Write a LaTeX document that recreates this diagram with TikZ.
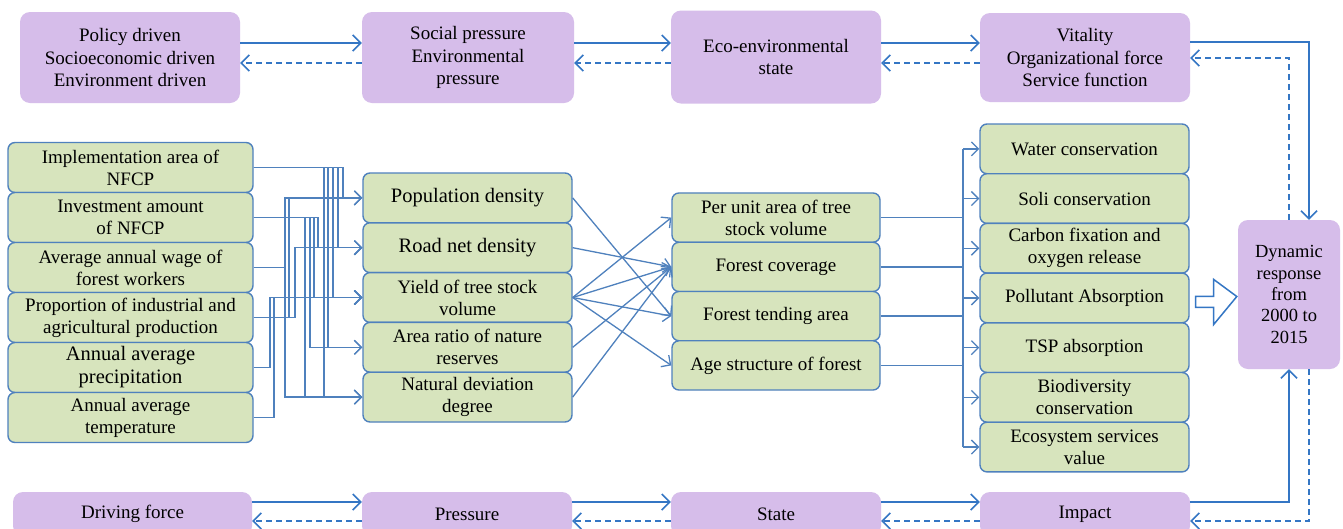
\documentclass[tikz,border=0pt]{standalone}
\usepackage{fontspec}
\setmainfont{Liberation Serif}
\usetikzlibrary{arrows.meta,calc}
\definecolor{purp}{RGB}{214,189,234}
\definecolor{grn}{RGB}{215,228,189}
\definecolor{edge}{RGB}{79,129,189}
\definecolor{lnk}{RGB}{52,118,196}
\tikzset{
 pbox/.style={fill=purp, rounded corners=10pt, inner sep=0pt, align=center, font=\fontsize{19}{22.5}\selectfont},
 gbox/.style={fill=grn, draw=edge, line width=1.4pt, rounded corners=7pt, inner sep=0pt, align=center, font=\fontsize{19}{22}\selectfont},
 bigtxt/.style={font=\fontsize{20.5}{23}\selectfont},
 conn/.style={draw=edge, line width=1.3pt, -{Straight Barb[length=7pt,width=14pt,line width=1.3pt]}},
 link/.style={draw=lnk, line width=1.5pt, -{Straight Barb[length=8pt,width=16pt,line width=1.5pt]}},
 dlink/.style={link, dash pattern=on 6pt off 4pt},
 plain/.style={draw=edge, line width=1.4pt},
}
\begin{document}
\begin{tikzpicture}[x=1pt,y=-1pt]
\useasboundingbox (0,0) rectangle (1343,528);
\fill[white] (0,0) rectangle (1343,528);
\clip (0,0) rectangle (1343,528);
% y levels
\coordinate (ya) at (0,43);
\coordinate (yb) at (0,63);
\coordinate (yc) at (0,42);
\coordinate (yd) at (0,58);
\coordinate (ye) at (0,502);
\coordinate (yf) at (0,521);
\coordinate (bus) at (963,0);
% top row
\node[pbox, minimum width=220pt, minimum height=91pt] (T1) at (130,57.5) {Policy driven\\Socioeconomic driven\\Environment driven};
\node[pbox, minimum width=212pt, minimum height=91pt] (T2) at (468,57.5) {Social pressure\\Environmental\\pressure};
\node[pbox, minimum width=210pt, minimum height=93pt] (T3) at (776,57) {Eco-environmental\\state};
\node[pbox, minimum width=210pt, minimum height=89pt] (T4) at (1085,57.5) {Vitality\\Organizational force\\Service function};
% bottom row
\node[pbox, minimum width=239pt, minimum height=44pt] (B1) at (132.5,514) {Driving force};
\node[pbox, minimum width=210pt, minimum height=44pt] (B2) at (467,514) {Pressure};
\node[pbox, minimum width=210pt, minimum height=44pt] (B3) at (776,514) {State};
\node[pbox, minimum width=210pt, minimum height=44pt] (B4) at (1085,514) {Impact};
% dynamic
\node[pbox, minimum width=102pt, minimum height=149pt, font=\fontsize{18.5}{21.3}\selectfont] (Dyn) at (1289,294.5) {Dynamic\\response\\from\\2000 to\\2015};
% left column
\node[gbox, minimum width=245pt, minimum height=50pt] (L1) at (130.5,167.5) {Implementation area of\\NFCP};
\node[gbox, minimum width=245pt, minimum height=50pt] (L2) at (130.5,217.5) {Investment amount\\of NFCP};
\node[gbox, minimum width=245pt, minimum height=50pt] (L3) at (130.5,267.5) {Average annual wage of\\forest workers};
\node[gbox, minimum width=245pt, minimum height=50pt] (L4) at (130.5,317.5) {Proportion of industrial and\\agricultural production};
\node[gbox, bigtxt, minimum width=245pt, minimum height=50pt] (L5) at (130.5,367.5) {Annual average\\precipitation};
\node[gbox, minimum width=245pt, minimum height=50pt] (L6) at (130.5,417.5) {Annual average\\temperature};
% middle column
\node[gbox, bigtxt, minimum width=209pt, minimum height=49.8pt] (M1) at (467.5,197.9) {Population density};
\node[gbox, bigtxt, minimum width=209pt, minimum height=49.8pt] (M2) at (467.5,247.7) {Road net density};
\node[gbox, minimum width=209pt, minimum height=49.8pt] (M3) at (467.5,297.5) {Yield of tree stock\\volume};
\node[gbox, minimum width=209pt, minimum height=49.8pt] (M4) at (467.5,347.3) {Area ratio of nature\\reserves};
\node[gbox, minimum width=209pt, minimum height=49.8pt] (M5) at (467.5,397.1) {Natural deviation\\degree};
% right-middle column
\node[gbox, minimum width=208pt, minimum height=49.25pt] (RM1) at (776,217.6) {Per unit area of tree\\stock volume};
\node[gbox, minimum width=208pt, minimum height=49.25pt] (RM2) at (776,266.9) {Forest coverage};
\node[gbox, minimum width=208pt, minimum height=49.25pt] (RM3) at (776,316.1) {Forest tending area};
\node[gbox, minimum width=208pt, minimum height=49.25pt] (RM4) at (776,365.4) {Age structure of forest};
% right column
\node[gbox, minimum width=209pt, minimum height=49.7pt] (R1) at (1084.5,148.85) {Water conservation};
\node[gbox, minimum width=209pt, minimum height=49.7pt] (R2) at (1084.5,198.55) {Soli conservation};
\node[gbox, minimum width=209pt, minimum height=49.7pt] (R3) at (1084.5,248.25) {Carbon fixation and\\oxygen release};
\node[gbox, minimum width=209pt, minimum height=49.7pt] (R4) at (1084.5,297.95) {Pollutant Absorption};
\node[gbox, minimum width=209pt, minimum height=49.7pt] (R5) at (1084.5,347.65) {TSP absorption};
\node[gbox, minimum width=209pt, minimum height=49.7pt] (R6) at (1084.5,397.35) {Biodiversity\\conservation};
\node[gbox, minimum width=209pt, minimum height=49.7pt] (R7) at (1084.5,447.05) {Ecosystem services\\value};
% top arrows
\foreach \a/\b in {T1/T2,T2/T3,T3/T4}{
  \draw[link] (\a.east |- ya) -- (\b.west |- ya);
  \draw[dlink] (\b.west |- yb) -- (\a.east |- yb);
}
% bottom arrows
\foreach \a/\b in {B1/B2,B2/B3,B3/B4}{
  \draw[link] (\a.east |- ye) -- (\b.west |- ye);
  \draw[dlink] (\b.west |- yf) -- (\a.east |- yf);
}
% to and from dynamic box
\draw[link] (T4.east |- yc) -| ([xshift=20pt]Dyn.north);
\draw[dlink] (Dyn.north) |- (T4.east |- yd);
\draw[link] (B4.east |- ye) -| (Dyn.south);
\draw[dlink] ([xshift=20pt]Dyn.south) |- (B4.east |- yf);
% left to middle
\foreach \s/\t/\x in {L1/M1/343, L1/M2/338, L1/M3/333, L1/M4/328, L1/M5/324,
  L2/M2/318, L2/M3/314, L2/M4/310, L2/M5/305,
  L3/M1/285, L3/M5/285, L4/M1/289, L4/M2/295, L5/M3/270, L6/M3/274}
  \draw[conn] (\s.east) -| (\t.west -| \x,0) -- (\t.west);
% middle to right-middle
\foreach \a/\b in {M1/RM3, M2/RM2, M3/RM1, M3/RM2, M3/RM3, M3/RM4, M4/RM2, M5/RM2}
  \draw[conn] (\a.east) -- (\b.west);
% right-middle to bus
\draw[plain] (R1.west -| bus) -- (R7.west -| bus);
\foreach \a in {RM1,RM2,RM3,RM4}
  \draw[plain] (\a.east) -- (\a.east -| bus);
\foreach \a in {R1,R2,R3,R4,R5,R6,R7}
  \draw[conn] (\a.west -| bus) -- (\a.west);
% block arrow
\draw[draw=lnk, line width=1.5pt, fill=white, line join=miter]
  ($(R4.east)+(6,-1.5)$) -- ++(18,0) -- ++(0,-17) -- ($(Dyn.west)+(-1,2)$) -- ($(R4.east)+(24,26.5)$) -- ++(0,-17) -- ++(-18,0) -- cycle;
\end{tikzpicture}
\end{document}
